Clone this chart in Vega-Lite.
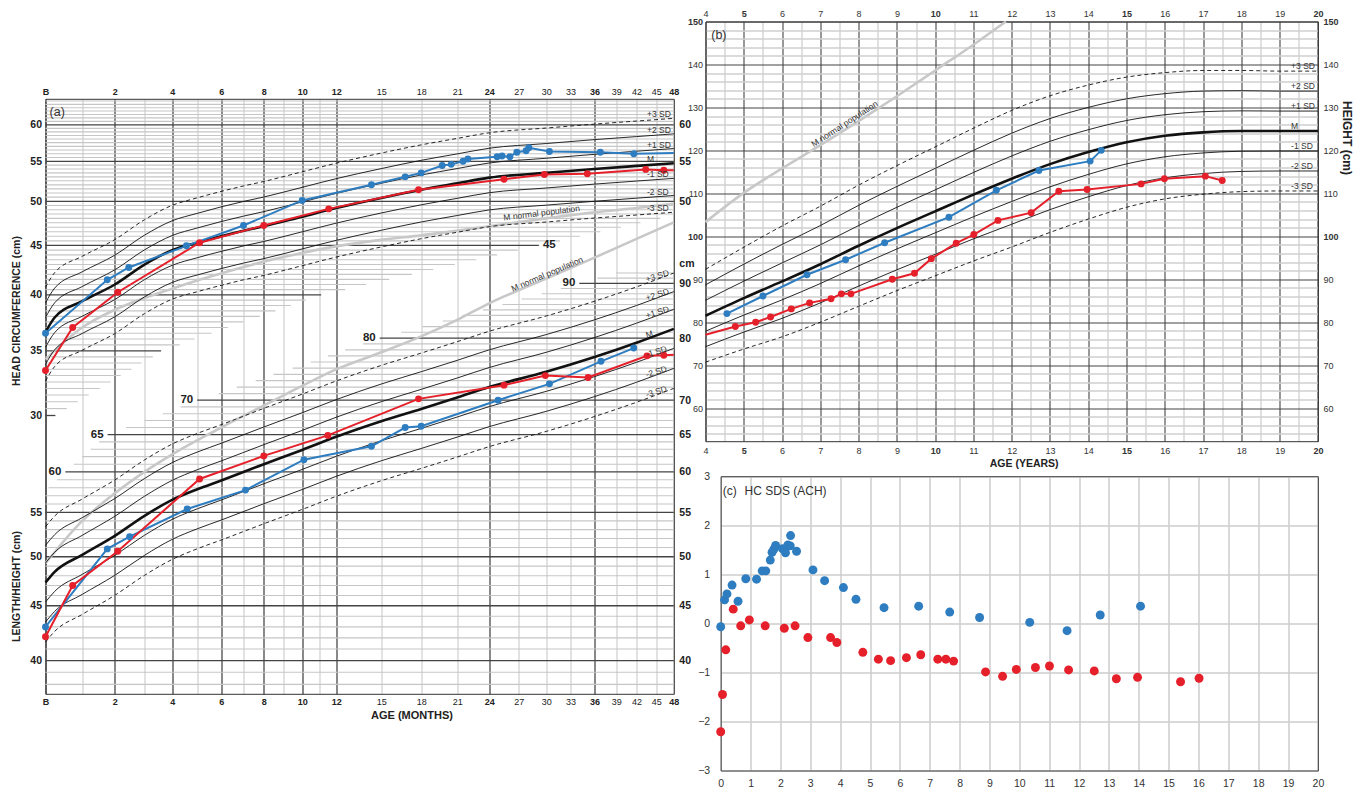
{
"$schema": "https://vega.github.io/schema/vega-lite/v6.json",
"padding": {"left": 10.5, "top": 8.5, "right": 2, "bottom": 2},
"config": {
  "font": "Liberation Sans",
  "view": {"stroke": null},
  "axis": {"ticks": false, "domain": false, "grid": false, "labelColor": "#222", "titleColor": "#222", "labelOverlap": false, "labelFlush": false, "labelBound": false, "domainColor": "#333", "domainWidth": 1}
},
"datasets": {
  "hcgrid": [{"v":63.5,"e":48},{"v":63,"e":48},{"v":62.5,"e":48},{"v":62,"e":48},{"v":61.5,"e":48},{"v":61,"e":48},{"v":60.5,"e":48},{"v":60,"e":48},{"v":59.5,"e":48},{"v":59,"e":48},{"v":58.5,"e":48},{"v":58,"e":48},{"v":57.5,"e":48},{"v":57,"e":48},{"v":56.5,"e":48},{"v":56,"e":48},{"v":55.5,"e":48},{"v":55,"e":48},{"v":54.5,"e":48},{"v":54,"e":48},{"v":53.5,"e":48},{"v":53,"e":48},{"v":52.5,"e":48},{"v":52,"e":48},{"v":51.5,"e":48},{"v":51,"e":48},{"v":50.5,"e":48},{"v":50,"e":48},{"v":49.5,"e":48},{"v":49,"e":48},{"v":48.5,"e":48},{"v":48,"e":45.7},{"v":47.5,"e":42.6},{"v":47,"e":39.7},{"v":46.5,"e":36.8},{"v":46,"e":34.2},{"v":45.5,"e":31.7},{"v":45,"e":29.2},{"v":44.5,"e":26.9},{"v":44,"e":24.8},{"v":43.5,"e":22.8},{"v":43,"e":20.8},{"v":42.5,"e":19},{"v":42,"e":17.3},{"v":41.5,"e":15.6},{"v":41,"e":14},{"v":40.5,"e":12.6},{"v":40,"e":11.1},{"v":39.5,"e":10.2},{"v":39,"e":9.4},{"v":38.5,"e":8.6},{"v":38,"e":7.8},{"v":37.5,"e":7},{"v":37,"e":6.3},{"v":36.5,"e":5.6},{"v":36,"e":4.9},{"v":35.5,"e":4.3},{"v":35,"e":3.6},{"v":34.5,"e":3.3},{"v":34,"e":2.9},{"v":33.5,"e":2.56},{"v":33,"e":2.2},{"v":32.5,"e":1.87},{"v":32,"e":1.54},{"v":31.5,"e":1.2},{"v":31,"e":0.88},{"v":30.5,"e":0.58},{"v":30,"e":0.27}],
  "lengrid": [{"v":38,"s":0},{"v":39,"s":0},{"v":40,"s":0},{"v":41,"s":0},{"v":42,"s":0},{"v":43,"s":0},{"v":44,"s":0},{"v":45,"s":0},{"v":46,"s":0},{"v":47,"s":0},{"v":48,"s":0},{"v":49,"s":0},{"v":50,"s":0},{"v":51,"s":0},{"v":52,"s":0},{"v":53,"s":0},{"v":54,"s":0},{"v":55,"s":0},{"v":56,"s":0},{"v":57,"s":0},{"v":58,"s":0.08},{"v":59,"s":0.31},{"v":60,"s":0.54},{"v":61,"s":0.77},{"v":62,"s":1.0},{"v":63,"s":1.26},{"v":64,"s":1.52},{"v":65,"s":1.78},{"v":66,"s":2.38},{"v":67,"s":3.0},{"v":68,"s":3.66},{"v":69,"s":4.34},{"v":70,"s":5.0},{"v":71,"s":5.9},{"v":72,"s":6.7},{"v":73,"s":7.6},{"v":74,"s":8.5},{"v":75,"s":9.5},{"v":76,"s":10.5},{"v":77,"s":11.5},{"v":78,"s":12.6},{"v":79,"s":13.8},{"v":80,"s":14.9},{"v":81,"s":16.5},{"v":82,"s":18.1},{"v":83,"s":19.8},{"v":84,"s":21.5},{"v":85,"s":23.4},{"v":86,"s":25.35},{"v":87,"s":27.3},{"v":88,"s":29.5},{"v":89,"s":31.8},{"v":90,"s":34.1},{"v":91,"s":36.4},{"v":92,"s":39.0}],
  "hcref": [
    {"m":0,"p3":40.73,"p2":39.25,"p1":37.90,"M":36.6,"m1":35.30,"m2":33.89,"m3":32.56},
    {"m":0.25,"p3":42.18,"p2":40.65,"p1":39.25,"M":37.9,"m1":36.56,"m2":35.09,"m3":33.72},
    {"m":1,"p3":43.85,"p2":42.26,"p1":40.80,"M":39.4,"m1":38.01,"m2":36.48,"m3":35.05},
    {"m":2,"p3":45.63,"p2":43.97,"p1":42.46,"M":41.0,"m1":39.55,"m2":37.96,"m3":36.47},
    {"m":3,"p3":47.85,"p2":46.12,"p1":44.53,"M":43.0,"m1":41.48,"m2":39.81,"m3":38.25},
    {"m":4,"p3":49.52,"p2":47.73,"p1":46.08,"M":44.5,"m1":42.92,"m2":41.20,"m3":39.59},
    {"m":5,"p3":50.41,"p2":48.58,"p1":46.91,"M":45.3,"m1":43.70,"m2":41.94,"m3":40.30},
    {"m":6,"p3":51.19,"p2":49.34,"p1":47.64,"M":46.0,"m1":44.37,"m2":42.59,"m3":40.92},
    {"m":7,"p3":51.86,"p2":49.98,"p1":48.26,"M":46.6,"m1":44.95,"m2":43.15,"m3":41.46},
    {"m":8,"p3":52.42,"p2":50.51,"p1":48.78,"M":47.1,"m1":45.43,"m2":43.61,"m3":41.90},
    {"m":10,"p3":53.64,"p2":51.69,"p1":49.92,"M":48.2,"m1":46.49,"m2":44.63,"m3":42.88},
    {"m":12,"p3":54.75,"p2":52.77,"p1":50.95,"M":49.2,"m1":47.46,"m2":45.55,"m3":43.77},
    {"m":15,"p3":56.09,"p2":54.05,"p1":52.19,"M":50.4,"m1":48.62,"m2":46.66,"m3":44.84},
    {"m":18,"p3":57.20,"p2":55.13,"p1":53.23,"M":51.4,"m1":49.58,"m2":47.59,"m3":45.73},
    {"m":21,"p3":58.09,"p2":55.98,"p1":54.06,"M":52.2,"m1":50.35,"m2":48.33,"m3":46.44},
    {"m":24,"p3":58.87,"p2":56.74,"p1":54.78,"M":52.9,"m1":51.03,"m2":48.98,"m3":47.06},
    {"m":30,"p3":59.54,"p2":57.38,"p1":55.40,"M":53.5,"m1":51.61,"m2":49.54,"m3":47.59},
    {"m":36,"p3":60.10,"p2":57.92,"p1":55.92,"M":54.0,"m1":52.09,"m2":50.00,"m3":48.04},
    {"m":42,"p3":60.54,"p2":58.34,"p1":56.34,"M":54.4,"m1":52.47,"m2":50.37,"m3":48.39},
    {"m":48,"p3":60.93,"p2":58.72,"p1":56.70,"M":54.75,"m1":52.81,"m2":50.69,"m3":48.71}
  ],
  "hcn": [{"m":0,"v":34.3},{"m":1,"v":37.0},{"m":2,"v":38.6},{"m":3,"v":39.7},{"m":4,"v":40.6},{"m":5,"v":41.4},{"m":6,"v":42.1},{"m":8,"v":43.3},{"m":10,"v":44.2},{"m":12,"v":44.9},{"m":15,"v":45.6},{"m":18,"v":46.1},{"m":24,"v":47.1},{"m":30,"v":48.0},{"m":36,"v":48.7},{"m":42,"v":49.2},{"m":48,"v":49.7}],
  "lenref": [
    {"m":0,"p3":53.33,"p2":51.24,"p1":49.33,"M":47.3,"m1":45.36,"m2":43.45,"m3":41.62},
    {"m":0.25,"p3":54.57,"p2":52.43,"p1":50.48,"M":48.4,"m1":46.41,"m2":44.46,"m3":42.59},
    {"m":1,"p3":56.60,"p2":54.38,"p1":52.35,"M":50.2,"m1":48.14,"m2":46.11,"m3":44.17},
    {"m":2,"p3":58.97,"p2":56.66,"p1":54.54,"M":52.3,"m1":50.15,"m2":48.04,"m3":46.02},
    {"m":3,"p3":61.56,"p2":59.15,"p1":56.94,"M":54.6,"m1":52.36,"m2":50.15,"m3":48.04},
    {"m":4,"p3":63.70,"p2":61.21,"p1":58.92,"M":56.5,"m1":54.18,"m2":51.90,"m3":49.71},
    {"m":5,"p3":65.17,"p2":62.61,"p1":60.28,"M":57.8,"m1":55.42,"m2":53.09,"m3":50.86},
    {"m":6,"p3":66.41,"p2":63.81,"p1":61.43,"M":58.9,"m1":56.48,"m2":54.10,"m3":51.83},
    {"m":8,"p3":68.78,"p2":66.08,"p1":63.62,"M":61.0,"m1":58.49,"m2":56.03,"m3":53.67},
    {"m":10,"p3":70.92,"p2":68.14,"p1":65.60,"M":62.9,"m1":60.32,"m2":57.77,"m3":55.35},
    {"m":12,"p3":72.95,"p2":70.09,"p1":67.48,"M":64.7,"m1":62.04,"m2":59.43,"m3":56.93},
    {"m":15,"p3":75.43,"p2":72.47,"p1":69.77,"M":66.9,"m1":64.15,"m2":61.45,"m3":58.87},
    {"m":18,"p3":77.46,"p2":74.42,"p1":71.65,"M":68.7,"m1":65.88,"m2":63.10,"m3":60.45},
    {"m":21,"p3":79.38,"p2":76.26,"p1":73.42,"M":70.4,"m1":67.51,"m2":64.66,"m3":61.95},
    {"m":24,"p3":81.18,"p2":78.00,"p1":75.09,"M":72.0,"m1":69.04,"m2":66.13,"m3":63.35},
    {"m":30,"p3":83.89,"p2":80.60,"p1":77.59,"M":74.4,"m1":71.34,"m2":68.34,"m3":65.46},
    {"m":36,"p3":86.59,"p2":83.20,"p1":80.09,"M":76.8,"m1":73.64,"m2":70.54,"m3":67.58},
    {"m":42,"p3":89.30,"p2":85.80,"p1":82.60,"M":79.2,"m1":75.94,"m2":72.75,"m3":69.69},
    {"m":48,"p3":92.00,"p2":88.40,"p1":85.10,"M":81.6,"m1":78.25,"m2":74.95,"m3":71.80}
  ],
  "lenn": [{"m":0,"v":49.3},{"m":1,"v":54.0},{"m":2,"v":57.3},{"m":3,"v":60.0},{"m":4,"v":62.3},{"m":6,"v":66.0},{"m":9,"v":70.7},{"m":12,"v":74.8},{"m":15,"v":77.6},{"m":18,"v":80.3},{"m":21,"v":83.2},{"m":24,"v":86.2},{"m":30,"v":90.9},{"m":36,"v":95.1},{"m":42,"v":99.0},{"m":48,"v":102.6}],
  "hcpat": [
    {"m":0,"v":36.5,"p":"A"},{"m":1.77,"v":41.46,"p":"A"},{"m":2.47,"v":42.7,"p":"A"},{"m":4.57,"v":44.96,"p":"A"},{"m":7.0,"v":47.2,"p":"A"},{"m":10.0,"v":50.1,"p":"A"},{"m":14.35,"v":52.0,"p":"A"},{"m":16.8,"v":53.0,"p":"A"},{"m":18.0,"v":53.5,"p":"A"},{"m":19.75,"v":54.45,"p":"A"},{"m":20.5,"v":54.6,"p":"A"},{"m":21.55,"v":55.0,"p":"A"},{"m":22.0,"v":55.3,"p":"A"},{"m":24.8,"v":55.6,"p":"A"},{"m":25.3,"v":55.7,"p":"A"},{"m":26.1,"v":55.6,"p":"A"},{"m":26.8,"v":56.2,"p":"A"},{"m":27.8,"v":56.4,"p":"A"},{"m":28.1,"v":56.8,"p":"A"},{"m":30.4,"v":56.3,"p":"A"},{"m":36.8,"v":56.2,"p":"A"},{"m":41.6,"v":56.0,"p":"A"},{"m":48,"v":56.1,"p":"A"},
    {"m":0,"v":33.4,"p":"B"},{"m":0.74,"v":37.0,"p":"B"},{"m":2.1,"v":40.25,"p":"B"},{"m":5.1,"v":45.3,"p":"B"},{"m":8.0,"v":47.2,"p":"B"},{"m":11.55,"v":49.1,"p":"B"},{"m":17.8,"v":51.4,"p":"B"},{"m":25.5,"v":52.7,"p":"B"},{"m":29.8,"v":53.3,"p":"B"},{"m":35.1,"v":53.4,"p":"B"},{"m":43.4,"v":53.95,"p":"B"},{"m":46.3,"v":53.85,"p":"B"},{"m":48,"v":53.85,"p":"B"}
  ],
  "lenpat": [
    {"m":0,"v":43.0,"p":"A"},{"m":1.77,"v":50.85,"p":"A"},{"m":2.5,"v":52.2,"p":"A"},{"m":4.6,"v":55.4,"p":"A"},{"m":7.1,"v":57.7,"p":"A"},{"m":10.1,"v":61.6,"p":"A"},{"m":14.35,"v":63.4,"p":"A"},{"m":16.8,"v":66.0,"p":"A"},{"m":18.0,"v":66.2,"p":"A"},{"m":24.9,"v":70.0,"p":"A"},{"m":30.4,"v":72.5,"p":"A"},{"m":36.9,"v":76.1,"p":"A"},{"m":41.6,"v":78.3,"p":"A"},
    {"m":0,"v":42.1,"p":"B"},{"m":0.74,"v":47.0,"p":"B"},{"m":2.1,"v":50.6,"p":"B"},{"m":5.1,"v":59.1,"p":"B"},{"m":8.0,"v":62.1,"p":"B"},{"m":11.5,"v":64.9,"p":"B"},{"m":17.8,"v":70.2,"p":"B"},{"m":25.5,"v":72.3,"p":"B"},{"m":29.9,"v":73.8,"p":"B"},{"m":35.2,"v":73.5,"p":"B"},{"m":43.6,"v":77.0,"p":"B"},{"m":46.3,"v":77.1,"p":"B"},{"m":48,"v":77.2,"p":"B"}
  ],
  "href": [
    {"a":4,"p3":92.3,"p2":88.7,"p1":85.1,"M":81.5,"m1":77.9,"m2":74.3,"m3":70.7},
    {"a":5,"p3":97.45,"p2":93.5,"p1":89.55,"M":85.6,"m1":81.65,"m2":77.7,"m3":73.75},
    {"a":6,"p3":102.4,"p2":98.1,"p1":93.8,"M":89.5,"m1":85.2,"m2":80.9,"m3":76.6},
    {"a":7,"p3":107.0,"p2":102.5,"p1":98.0,"M":93.5,"m1":89.0,"m2":84.5,"m3":80.0},
    {"a":8,"p3":111.9,"p2":107.2,"p1":102.5,"M":97.8,"m1":93.1,"m2":88.4,"m3":83.7},
    {"a":9,"p3":116.45,"p2":111.6,"p1":106.75,"M":101.9,"m1":97.05,"m2":92.2,"m3":87.35},
    {"a":10,"p3":120.8,"p2":115.8,"p1":110.8,"M":105.8,"m1":100.8,"m2":95.8,"m3":90.8},
    {"a":11,"p3":125.15,"p2":120.0,"p1":114.85,"M":109.7,"m1":104.55,"m2":99.4,"m3":94.25},
    {"a":12,"p3":129.3,"p2":124.0,"p1":118.7,"M":113.4,"m1":108.1,"m2":102.8,"m3":97.5},
    {"a":13,"p3":132.7,"p2":127.4,"p1":122.1,"M":116.8,"m1":111.5,"m2":106.2,"m3":100.9},
    {"a":14,"p3":135.2,"p2":130.0,"p1":124.8,"M":119.6,"m1":114.4,"m2":109.2,"m3":104.0},
    {"a":15,"p3":137.05,"p2":132.0,"p1":126.95,"M":121.9,"m1":116.85,"m2":111.8,"m3":106.75},
    {"a":16,"p3":138.1,"p2":133.2,"p1":128.3,"M":123.4,"m1":118.5,"m2":113.6,"m3":108.7},
    {"a":17,"p3":138.6,"p2":133.8,"p1":129.0,"M":124.2,"m1":119.4,"m2":114.6,"m3":109.8},
    {"a":18,"p3":138.6,"p2":133.9,"p1":129.2,"M":124.5,"m1":119.8,"m2":115.1,"m3":110.4},
    {"a":19,"p3":138.45,"p2":133.8,"p1":129.15,"M":124.5,"m1":119.85,"m2":115.2,"m3":110.55},
    {"a":20,"p3":138.45,"p2":133.8,"p1":129.15,"M":124.5,"m1":119.85,"m2":115.2,"m3":110.55}
  ],
  "hn": [{"a":4,"v":103.3},{"a":5,"v":110.1},{"a":6,"v":115.8},{"a":7,"v":121.2},{"a":8,"v":126.8},{"a":9,"v":132.6},{"a":10,"v":138.6},{"a":11,"v":144.6},{"a":11.85,"v":150.0}],
  "hpat": [
    {"a":4.56,"v":82.0,"p":"A"},{"a":5.5,"v":86.1,"p":"A"},{"a":6.65,"v":91.05,"p":"A"},{"a":7.66,"v":94.55,"p":"A"},{"a":8.68,"v":98.5,"p":"A"},{"a":10.36,"v":104.45,"p":"A"},{"a":11.6,"v":110.7,"p":"A"},{"a":12.71,"v":115.3,"p":"A"},{"a":14.05,"v":117.5,"p":"A"},{"a":14.34,"v":120.0,"p":"A"},
    {"a":4,"v":77.1,"p":"B"},{"a":4.78,"v":79.0,"p":"B"},{"a":5.31,"v":80.0,"p":"B"},{"a":5.7,"v":81.2,"p":"B"},{"a":6.24,"v":83.1,"p":"B"},{"a":6.72,"v":84.5,"p":"B"},{"a":7.28,"v":85.45,"p":"B"},{"a":7.55,"v":86.6,"p":"B"},{"a":7.8,"v":86.6,"p":"B"},{"a":8.88,"v":90.0,"p":"B"},{"a":9.46,"v":91.4,"p":"B"},{"a":9.9,"v":94.8,"p":"B"},{"a":10.55,"v":98.4,"p":"B"},{"a":11.01,"v":100.4,"p":"B"},{"a":11.64,"v":103.7,"p":"B"},{"a":12.51,"v":105.5,"p":"B"},{"a":13.23,"v":110.5,"p":"B"},{"a":13.97,"v":110.9,"p":"B"},{"a":15.38,"v":112.2,"p":"B"},{"a":15.99,"v":113.4,"p":"B"},{"a":17.06,"v":114.0,"p":"B"},{"a":17.5,"v":113.0,"p":"B"}
  ],
  "sds": [
    {"a":0,"v":-0.07,"p":"A"},{"a":0.13,"v":0.48,"p":"A"},{"a":0.21,"v":0.60,"p":"A"},{"a":0.38,"v":0.78,"p":"A"},{"a":0.58,"v":0.45,"p":"A"},{"a":0.84,"v":0.91,"p":"A"},{"a":1.20,"v":0.90,"p":"A"},{"a":1.39,"v":1.07,"p":"A"},{"a":1.51,"v":1.07,"p":"A"},{"a":1.66,"v":1.29,"p":"A"},{"a":1.72,"v":1.45,"p":"A"},{"a":1.78,"v":1.51,"p":"A"},{"a":1.84,"v":1.59,"p":"A"},{"a":2.07,"v":1.52,"p":"A"},{"a":2.14,"v":1.51,"p":"A"},{"a":2.17,"v":1.44,"p":"A"},{"a":2.25,"v":1.60,"p":"A"},{"a":2.33,"v":1.58,"p":"A"},{"a":2.34,"v":1.79,"p":"A"},{"a":2.54,"v":1.47,"p":"A"},{"a":3.09,"v":1.09,"p":"A"},{"a":3.48,"v":0.87,"p":"A"},{"a":4.11,"v":0.73,"p":"A"},{"a":4.53,"v":0.49,"p":"A"},{"a":5.47,"v":0.32,"p":"A"},{"a":6.63,"v":0.35,"p":"A"},{"a":7.67,"v":0.23,"p":"A"},{"a":8.67,"v":0.12,"p":"A"},{"a":10.35,"v":0.02,"p":"A"},{"a":11.60,"v":-0.15,"p":"A"},{"a":12.71,"v":0.17,"p":"A"},{"a":14.06,"v":0.35,"p":"A"},
    {"a":0,"v":-2.21,"p":"B"},{"a":0.06,"v":-1.45,"p":"B"},{"a":0.17,"v":-0.54,"p":"B"},{"a":0.42,"v":0.29,"p":"B"},{"a":0.67,"v":-0.05,"p":"B"},{"a":0.96,"v":0.07,"p":"B"},{"a":1.49,"v":-0.05,"p":"B"},{"a":2.13,"v":-0.10,"p":"B"},{"a":2.49,"v":-0.05,"p":"B"},{"a":2.92,"v":-0.29,"p":"B"},{"a":3.68,"v":-0.29,"p":"B"},{"a":3.89,"v":-0.39,"p":"B"},{"a":4.76,"v":-0.59,"p":"B"},{"a":5.28,"v":-0.73,"p":"B"},{"a":5.69,"v":-0.76,"p":"B"},{"a":6.22,"v":-0.70,"p":"B"},{"a":6.70,"v":-0.64,"p":"B"},{"a":7.27,"v":-0.73,"p":"B"},{"a":7.54,"v":-0.73,"p":"B"},{"a":7.80,"v":-0.77,"p":"B"},{"a":8.87,"v":-0.99,"p":"B"},{"a":9.44,"v":-1.08,"p":"B"},{"a":9.90,"v":-0.94,"p":"B"},{"a":10.54,"v":-0.90,"p":"B"},{"a":11.01,"v":-0.87,"p":"B"},{"a":11.65,"v":-0.95,"p":"B"},{"a":12.51,"v":-0.97,"p":"B"},{"a":13.25,"v":-1.13,"p":"B"},{"a":13.96,"v":-1.10,"p":"B"},{"a":15.40,"v":-1.19,"p":"B"},{"a":16.02,"v":-1.12,"p":"B"}
  ]
},
"bounds": "flush",
"spacing": 31,
"hconcat": [
 {
  "width": 628.3, "height": 672.3,
  "resolve": {"scale": {"x": "independent", "y": "independent"}},
  "layer": [
   {
    "resolve": {"axis": {"x": "independent", "y": "independent"}},
    "layer": [
     {"data": {"name": "hcgrid"}, "transform": [{"filter": "datum.v % 5 != 0"}],
      "mark": {"type": "rule", "color": "#c6c6c6", "strokeWidth": 1.1},
      "encoding": {
       "x": {"field": "e", "type": "quantitative",
             "scale": {"domain": [0,1,2,3,4,5,6,7,8,9,10,11,12,15,18,21,24,27,30,33,36,39,42,45,48], "range": [0,36.7,69.3,99,126.7,151.7,175.7,198,218.3,237.7,256.7,274,290.7,335.7,375.7,411.7,443.7,473.3,500.7,525,549,570.7,591,610.7,628.3], "nice": false, "zero": false},
             "axis": {"orient": "bottom", "values": [0,2,4,6,8,10,12,15,18,21,24,27,30,33,36,39,42,45,48], "domain": true,
                      "labelExpr": "datum.value == 0 ? 'B' : format(datum.value, 'd')",
                      "labelFontWeight": {"condition": {"test": "datum.value <= 12 || datum.value % 12 == 0", "value": "bold"}, "value": "normal"},
                      "labelFontSize": 9, "labelPadding": 4,
                      "title": "AGE (MONTHS)", "titleX": 366, "titleY": 21.4, "titleAlign": "center", "titleBaseline": "middle", "titleAngle": 0, "titleFontSize": 11, "titleFontWeight": "bold"}},
       "x2": {"datum": 0},
       "y": {"field": "v", "type": "quantitative",
             "scale": {"type": "log", "domain": [15.45, 63.84], "range": [672.3, 77.3], "nice": false, "zero": false},
             "axis": {"orient": "left", "values": [30,35,40,45,50,55,60], "domain": true, "labelExpr": "format(datum.value, 'd')", "labelFontWeight": "bold", "labelFontSize": 10.5, "labelPadding": 4,
                      "title": "HEAD CIRCUMFERENCE (cm)", "titleX": -29.2, "titleY": 289, "titleAngle": 270, "titleAlign": "center", "titleBaseline": "middle", "titleFontSize": 10.5, "titleFontWeight": "bold"}}
      }},
     {"data": {"name": "hcgrid"}, "transform": [{"filter": "datum.v % 5 == 0"}],
      "mark": {"type": "rule", "color": "#444", "strokeWidth": 1.3},
      "encoding": {
       "x": {"field": "e", "type": "quantitative", "axis": null},
       "x2": {"datum": 0},
       "y": {"field": "v", "type": "quantitative", "scale": {"type": "log"}, "axis": null}
      }}
    ]
   },
   {
    "resolve": {"axis": {"x": "independent", "y": "independent"}},
    "layer": [
     {"data": {"name": "lengrid"}, "transform": [{"filter": "!(datum.v % 5 == 0 && (datum.v <= 70 || datum.v % 10 == 0))"}],
      "mark": {"type": "rule", "color": "#c6c6c6", "strokeWidth": 1.1},
      "encoding": {
       "x": {"field": "s", "type": "quantitative",
             "scale": {"domain": [0,1,2,3,4,5,6,7,8,9,10,11,12,15,18,21,24,27,30,33,36,39,42,45,48], "range": [0,36.7,69.3,99,126.7,151.7,175.7,198,218.3,237.7,256.7,274,290.7,335.7,375.7,411.7,443.7,473.3,500.7,525,549,570.7,591,610.7,628.3], "nice": false, "zero": false},
             "axis": {"orient": "top", "offset": -77.3, "domain": true, "values": [0,1,2,3,4,5,6,7,8,9,10,11,12,15,18,21,24,27,30,33,36,39,42,45,48], "grid": true,
                      "gridColor": {"condition": {"test": "(datum.value <= 12 && datum.value % 2 == 0) || datum.value == 24 || datum.value == 36", "value": "#3a3a3a"}, "value": "#cfcfcf"},
                      "gridWidth": {"condition": {"test": "datum.value == 24 || datum.value == 36", "value": 2}, "value": 1.2},
                      "gridOpacity": {"condition": {"test": "datum.value == 24 || datum.value == 36", "value": 0.6}, "value": 1},
                      "labelExpr": "datum.value == 0 ? 'B' : ((datum.value < 12 && datum.value % 2 == 1) ? '' : format(datum.value, 'd'))",
                      "labelFontWeight": {"condition": {"test": "datum.value <= 12 || datum.value % 12 == 0", "value": "bold"}, "value": "normal"},
                      "labelFontSize": 9, "labelPadding": 2, "title": null}},
       "x2": {"datum": 48},
       "y": {"field": "v", "type": "quantitative",
             "scale": {"type": "log", "domain": [37.24, 133.8], "range": [672.3, 77.3], "nice": false, "zero": false},
             "axis": {"orient": "left", "values": [40,45,50,55], "labelExpr": "format(datum.value, 'd')", "labelFontWeight": "bold", "labelFontSize": 10.5, "labelPadding": 4,
                      "title": "LENGTH/HEIGHT (cm)", "titleX": -29.2, "titleY": 564.5, "titleAngle": 270, "titleAlign": "center", "titleBaseline": "middle", "titleFontSize": 10.5, "titleFontWeight": "bold"}}
      }},
     {"data": {"name": "lengrid"}, "transform": [{"filter": "datum.v % 5 == 0 && (datum.v <= 70 || datum.v % 10 == 0)"}],
      "mark": {"type": "rule", "color": "#444", "strokeWidth": 1.3},
      "encoding": {
       "x": {"field": "s", "type": "quantitative", "axis": null},
       "x2": {"datum": 48},
       "y": {"field": "v", "type": "quantitative", "scale": {"type": "log"}, "axis": null}
      }}
    ]
   },
   {
    "resolve": {"axis": {"x": "independent", "y": "independent"}},
    "layer": [
     {"data": {"name": "hcn"},
      "mark": {"type": "line", "color": "#c8c8c8", "strokeWidth": 2.6, "interpolate": "monotone"},
      "encoding": {
       "x": {"field": "m", "type": "quantitative", "axis": null,
             "scale": {"domain": [0,1,2,3,4,5,6,7,8,9,10,11,12,15,18,21,24,27,30,33,36,39,42,45,48], "range": [0,36.7,69.3,99,126.7,151.7,175.7,198,218.3,237.7,256.7,274,290.7,335.7,375.7,411.7,443.7,473.3,500.7,525,549,570.7,591,610.7,628.3], "nice": false, "zero": false}},
       "y": {"field": "v", "type": "quantitative", "scale": {"type": "log", "domain": [15.45, 63.84], "range": [672.3, 77.3], "nice": false, "zero": false},
             "axis": {"orient": "right", "domain": true, "values": [50,55,60], "labelExpr": "format(datum.value, 'd')", "labelFontWeight": "bold", "labelFontSize": 10.5, "labelPadding": 5, "title": null}}
      }},
     {"data": {"name": "hcref"}, "transform": [{"fold": ["p2","p1","m1","m2"], "as": ["c","v"]}],
      "mark": {"type": "line", "color": "#111", "strokeWidth": 0.9, "interpolate": "monotone"},
      "encoding": {"x": {"field": "m", "type": "quantitative", "axis": null}, "y": {"field": "v", "type": "quantitative", "scale": {"type": "log"}, "axis": null}, "detail": {"field": "c", "type": "nominal"}}},
     {"data": {"name": "hcref"}, "transform": [{"fold": ["p3","m3"], "as": ["c","v"]}],
      "mark": {"type": "line", "color": "#111", "strokeWidth": 0.9, "strokeDash": [4,3], "interpolate": "monotone"},
      "encoding": {"x": {"field": "m", "type": "quantitative", "axis": null}, "y": {"field": "v", "type": "quantitative", "scale": {"type": "log"}, "axis": null}, "detail": {"field": "c", "type": "nominal"}}},
     {"data": {"name": "hcref"},
      "mark": {"type": "line", "color": "#111", "strokeWidth": 2.6, "interpolate": "monotone"},
      "encoding": {"x": {"field": "m", "type": "quantitative", "axis": null}, "y": {"field": "M", "type": "quantitative", "scale": {"type": "log"}, "axis": null}}},
     {"data": {"name": "hcpat"},
      "mark": {"type": "line", "strokeWidth": 2},
      "encoding": {"x": {"field": "m", "type": "quantitative", "axis": null}, "y": {"field": "v", "type": "quantitative", "scale": {"type": "log"}, "axis": null},
                   "color": {"field": "p", "type": "nominal", "scale": {"domain": ["A","B"], "range": ["#2e7dc0","#e5202a"]}, "legend": null}}},
     {"data": {"name": "hcpat"}, "transform": [{"filter": "datum.m < 48"}],
      "mark": {"type": "circle", "size": 48, "opacity": 1},
      "encoding": {"x": {"field": "m", "type": "quantitative", "axis": null}, "y": {"field": "v", "type": "quantitative", "scale": {"type": "log"}, "axis": null},
                   "color": {"field": "p", "type": "nominal", "scale": {"domain": ["A","B"], "range": ["#2e7dc0","#e5202a"]}, "legend": null}}},
     {"data": {"values": [{"m":43.6,"v":60.64,"t":"+3 SD"},{"m":43.6,"v":58.44,"t":"+2 SD"},{"m":43.6,"v":56.43,"t":"+1 SD"},{"m":43.6,"v":54.49,"t":"M"},{"m":43.6,"v":52.56,"t":"-1 SD"},{"m":43.6,"v":50.45,"t":"-2 SD"},{"m":43.6,"v":48.47,"t":"-3 SD"}]},
      "mark": {"type": "text", "align": "left", "baseline": "middle", "dy": -6, "fontSize": 8.5, "color": "#333"},
      "encoding": {"x": {"field": "m", "type": "quantitative", "axis": null}, "y": {"field": "v", "type": "quantitative", "scale": {"type": "log"}, "axis": null}, "text": {"field": "t", "type": "nominal"}}},
     {"data": {"values": [{"m":29.5,"v":48.65,"t":"M normal population"}]},
      "mark": {"type": "text", "align": "center", "baseline": "middle", "angle": 353, "fontSize": 8.5, "color": "#333"},
      "encoding": {"x": {"field": "m", "type": "quantitative", "axis": null}, "y": {"field": "v", "type": "quantitative", "scale": {"type": "log"}, "axis": null}, "text": {"field": "t", "type": "nominal"}}},
     {"data": {"values": [{"m":0.11,"v":61.86,"t":"(a)"}]},
      "mark": {"type": "text", "align": "left", "baseline": "middle", "fontSize": 12.5, "color": "#333"},
      "encoding": {"x": {"field": "m", "type": "quantitative", "axis": null}, "y": {"field": "v", "type": "quantitative", "scale": {"type": "log"}, "axis": null}, "text": {"field": "t", "type": "nominal"}}},
     {"data": {"values": [{"m":29.2,"v":45,"t":"45"}]},
      "mark": {"type": "text", "align": "left", "baseline": "middle", "dx": 4, "fontSize": 11.5, "fontWeight": "bold", "color": "#222"},
      "encoding": {"x": {"field": "m", "type": "quantitative", "axis": null}, "y": {"field": "v", "type": "quantitative", "scale": {"type": "log"}, "axis": null}, "text": {"field": "t", "type": "nominal"}}}
    ]
   },
   {
    "resolve": {"axis": {"x": "independent", "y": "independent"}},
    "layer": [
     {"data": {"name": "lenn"},
      "mark": {"type": "line", "color": "#c8c8c8", "strokeWidth": 2.6, "interpolate": "monotone"},
      "encoding": {
       "x": {"field": "m", "type": "quantitative", "axis": null,
             "scale": {"domain": [0,1,2,3,4,5,6,7,8,9,10,11,12,15,18,21,24,27,30,33,36,39,42,45,48], "range": [0,36.7,69.3,99,126.7,151.7,175.7,198,218.3,237.7,256.7,274,290.7,335.7,375.7,411.7,443.7,473.3,500.7,525,549,570.7,591,610.7,628.3], "nice": false, "zero": false}},
       "y": {"field": "v", "type": "quantitative", "scale": {"type": "log", "domain": [37.24, 133.8], "range": [672.3, 77.3], "nice": false, "zero": false},
             "axis": {"orient": "right", "values": [40,45,50,55,60,65,70,80,90,93.9], "labelExpr": "datum.value > 93 ? 'cm' : format(datum.value, 'd')", "labelFontWeight": "bold", "labelFontSize": 10.5, "labelPadding": 5, "title": null}}
      }},
     {"data": {"name": "lenref"}, "transform": [{"fold": ["p2","p1","m1","m2"], "as": ["c","v"]}],
      "mark": {"type": "line", "color": "#111", "strokeWidth": 0.9, "interpolate": "monotone"},
      "encoding": {"x": {"field": "m", "type": "quantitative", "axis": null}, "y": {"field": "v", "type": "quantitative", "scale": {"type": "log"}, "axis": null}, "detail": {"field": "c", "type": "nominal"}}},
     {"data": {"name": "lenref"}, "transform": [{"fold": ["p3","m3"], "as": ["c","v"]}],
      "mark": {"type": "line", "color": "#111", "strokeWidth": 0.9, "strokeDash": [4,3], "interpolate": "monotone"},
      "encoding": {"x": {"field": "m", "type": "quantitative", "axis": null}, "y": {"field": "v", "type": "quantitative", "scale": {"type": "log"}, "axis": null}, "detail": {"field": "c", "type": "nominal"}}},
     {"data": {"name": "lenref"},
      "mark": {"type": "line", "color": "#111", "strokeWidth": 2.6, "interpolate": "monotone"},
      "encoding": {"x": {"field": "m", "type": "quantitative", "axis": null}, "y": {"field": "M", "type": "quantitative", "scale": {"type": "log"}, "axis": null}}},
     {"data": {"name": "lenpat"},
      "mark": {"type": "line", "strokeWidth": 2},
      "encoding": {"x": {"field": "m", "type": "quantitative", "axis": null}, "y": {"field": "v", "type": "quantitative", "scale": {"type": "log"}, "axis": null},
                   "color": {"field": "p", "type": "nominal", "scale": {"domain": ["A","B"], "range": ["#2e7dc0","#e5202a"]}, "legend": null}}},
     {"data": {"name": "lenpat"}, "transform": [{"filter": "datum.m < 48"}],
      "mark": {"type": "circle", "size": 48, "opacity": 1},
      "encoding": {"x": {"field": "m", "type": "quantitative", "axis": null}, "y": {"field": "v", "type": "quantitative", "scale": {"type": "log"}, "axis": null},
                   "color": {"field": "p", "type": "nominal", "scale": {"domain": ["A","B"], "range": ["#2e7dc0","#e5202a"]}, "legend": null}}},
     {"data": {"values": [{"m":43.6,"v":90.02,"t":"+3 SD"},{"m":43.6,"v":86.49,"t":"+2 SD"},{"m":43.6,"v":83.27,"t":"+1 SD"},{"m":43.6,"v":79.84,"t":"M"},{"m":43.6,"v":76.56,"t":"-1 SD"},{"m":43.6,"v":73.34,"t":"-2 SD"},{"m":43.6,"v":70.25,"t":"-3 SD"}]},
      "mark": {"type": "text", "align": "left", "baseline": "middle", "dy": -4, "angle": 343, "fontSize": 8.5, "color": "#333"},
      "encoding": {"x": {"field": "m", "type": "quantitative", "axis": null}, "y": {"field": "v", "type": "quantitative", "scale": {"type": "log"}, "axis": null}, "text": {"field": "t", "type": "nominal"}}},
     {"data": {"values": [{"m":30.1,"v":91.84,"t":"M normal population"}]},
      "mark": {"type": "text", "align": "center", "baseline": "middle", "angle": 337, "fontSize": 8.5, "color": "#333"},
      "encoding": {"x": {"field": "m", "type": "quantitative", "axis": null}, "y": {"field": "v", "type": "quantitative", "scale": {"type": "log"}, "axis": null}, "text": {"field": "t", "type": "nominal"}}},
     {"data": {"values": [{"m":34.1,"v":90,"t":"90"},{"m":14.9,"v":80,"t":"80"},{"m":5.0,"v":70,"t":"70"},{"m":1.78,"v":65,"t":"65"},{"m":0.54,"v":60,"t":"60"}]},
      "mark": {"type": "text", "align": "right", "baseline": "middle", "dx": -4, "fontSize": 11.5, "fontWeight": "bold", "color": "#222"},
      "encoding": {"x": {"field": "m", "type": "quantitative", "axis": null}, "y": {"field": "v", "type": "quantitative", "scale": {"type": "log"}, "axis": null}, "text": {"field": "t", "type": "nominal"}}}
    ]
   }
  ]
 },
 {
  "width": 612.4, "height": 749,
  "resolve": {"scale": {"x": "independent", "y": "independent"}},
  "layer": [
   {
    "resolve": {"axis": {"x": "independent", "y": "independent"}},
    "layer": [
     {"data": {"name": "href"}, "transform": [{"fold": ["p2","p1","m1","m2"], "as": ["c","v"]}],
      "mark": {"type": "line", "color": "#111", "strokeWidth": 0.9, "interpolate": "monotone"},
      "encoding": {
       "x": {"field": "a", "type": "quantitative", "scale": {"domain": [4,20], "range": [0, 612.4], "nice": false, "zero": false},
             "axis": {"orient": "top", "domain": true, "values": [4,4.5,5,5.5,6,6.5,7,7.5,8,8.5,9,9.5,10,10.5,11,11.5,12,12.5,13,13.5,14,14.5,15,15.5,16,16.5,17,17.5,18,18.5,19,19.5,20], "grid": true,
                      "gridColor": {"condition": {"test": "datum.value % 1 == 0", "value": "#444"}, "value": "#cfcfcf"},
                      "gridWidth": {"condition": {"test": "datum.value % 1 == 0", "value": 1.1}, "value": 1.3},
                      "labelExpr": "datum.value % 1 == 0 ? format(datum.value, 'd') : ''",
                      "labelFontWeight": {"condition": {"test": "datum.value % 5 == 0", "value": "bold"}, "value": "normal"},
                      "labelFontSize": 9, "labelColor": "#333", "labelPadding": 3.5, "title": null}},
       "y": {"field": "v", "type": "quantitative", "scale": {"domain": [52.3,150], "range": [419.7, 0], "nice": false, "zero": false},
             "axis": {"orient": "left", "domain": true, "values": [54,56,58,60,62,64,66,68,70,72,74,76,78,80,82,84,86,88,90,92,94,96,98,100,102,104,106,108,110,112,114,116,118,120,122,124,126,128,130,132,134,136,138,140,142,144,146,148,150], "grid": true,
                      "gridColor": {"condition": {"test": "datum.value % 10 == 0", "value": "#444"}, "value": "#cfcfcf"},
                      "gridWidth": {"condition": {"test": "datum.value % 10 == 0", "value": 1.1}, "value": 1.3},
                      "labelExpr": "datum.value % 10 == 0 ? format(datum.value, 'd') : ''",
                      "labelFontWeight": {"condition": {"test": "datum.value % 50 == 0", "value": "bold"}, "value": "normal"},
                      "labelFontSize": 9, "labelColor": "#333", "labelPadding": 3, "title": null}},
       "detail": {"field": "c", "type": "nominal"}
      }},
     {"data": {"name": "hn"},
      "mark": {"type": "line", "color": "#c8c8c8", "strokeWidth": 2.6, "interpolate": "monotone"},
      "encoding": {
       "x": {"field": "a", "type": "quantitative",
             "axis": {"orient": "bottom", "offset": -329.3, "domain": true, "values": [4,5,6,7,8,9,10,11,12,13,14,15,16,17,18,19,20], "labelExpr": "format(datum.value, 'd')",
                      "labelFontWeight": {"condition": {"test": "datum.value % 5 == 0", "value": "bold"}, "value": "normal"},
                      "labelFontSize": 9, "labelColor": "#333", "labelPadding": 5,
                      "title": "AGE (YEARS)", "titleX": 318.2, "titleY": 22.6, "titleAlign": "center", "titleBaseline": "middle", "titleAngle": 0, "titleFontSize": 10.5, "titleFontWeight": "bold"}},
       "y": {"field": "v", "type": "quantitative",
             "axis": {"orient": "right", "domain": true, "values": [60,70,80,90,100,110,120,130,140,150], "labelExpr": "format(datum.value, 'd')",
                      "labelFontWeight": {"condition": {"test": "datum.value % 50 == 0", "value": "bold"}, "value": "normal"},
                      "labelFontSize": 9, "labelColor": "#333", "labelPadding": 5,
                      "title": "HEIGHT (cm)", "titleX": 28.3, "titleY": 116, "titleAngle": 90, "titleAlign": "center", "titleBaseline": "middle", "titleFontSize": 12, "titleFontWeight": "bold"}}
      }},
     {"data": {"name": "href"}, "transform": [{"fold": ["p3","m3"], "as": ["c","v"]}],
      "mark": {"type": "line", "color": "#111", "strokeWidth": 0.9, "strokeDash": [4,3], "interpolate": "monotone"},
      "encoding": {"x": {"field": "a", "type": "quantitative", "axis": null}, "y": {"field": "v", "type": "quantitative", "axis": null}, "detail": {"field": "c", "type": "nominal"}}},
     {"data": {"name": "href"},
      "mark": {"type": "line", "color": "#111", "strokeWidth": 2.6, "interpolate": "monotone"},
      "encoding": {"x": {"field": "a", "type": "quantitative", "axis": null}, "y": {"field": "M", "type": "quantitative", "axis": null}}},
     {"data": {"name": "hpat"},
      "mark": {"type": "line", "strokeWidth": 2},
      "encoding": {"x": {"field": "a", "type": "quantitative", "axis": null}, "y": {"field": "v", "type": "quantitative", "axis": null},
                   "color": {"field": "p", "type": "nominal", "scale": {"domain": ["A","B"], "range": ["#2e7dc0","#e5202a"]}, "legend": null}}},
     {"data": {"name": "hpat"}, "transform": [{"filter": "datum.a > 4"}],
      "mark": {"type": "circle", "size": 48, "opacity": 1},
      "encoding": {"x": {"field": "a", "type": "quantitative", "axis": null}, "y": {"field": "v", "type": "quantitative", "axis": null},
                   "color": {"field": "p", "type": "nominal", "scale": {"domain": ["A","B"], "range": ["#2e7dc0","#e5202a"]}, "legend": null}}},
     {"data": {"values": [{"a":19.3,"v":138.45,"t":"+3 SD"},{"a":19.3,"v":133.8,"t":"+2 SD"},{"a":19.3,"v":129.15,"t":"+1 SD"},{"a":19.3,"v":124.5,"t":"M"},{"a":19.3,"v":119.85,"t":"-1 SD"},{"a":19.3,"v":115.2,"t":"-2 SD"},{"a":19.3,"v":110.55,"t":"-3 SD"}]},
      "mark": {"type": "text", "align": "left", "baseline": "middle", "dy": -5, "fontSize": 8.5, "color": "#333"},
      "encoding": {"x": {"field": "a", "type": "quantitative", "axis": null}, "y": {"field": "v", "type": "quantitative", "axis": null}, "text": {"field": "t", "type": "nominal"}}},
     {"data": {"values": [{"a":7.63,"v":126.2,"t":"M normal population"}]},
      "mark": {"type": "text", "align": "center", "baseline": "middle", "angle": 327, "fontSize": 8.5, "color": "#333"},
      "encoding": {"x": {"field": "a", "type": "quantitative", "axis": null}, "y": {"field": "v", "type": "quantitative", "axis": null}, "text": {"field": "t", "type": "nominal"}}},
     {"data": {"values": [{"a":4.15,"v":146.97,"t":"(b)"}]},
      "mark": {"type": "text", "align": "left", "baseline": "middle", "fontSize": 12.5, "color": "#333"},
      "encoding": {"x": {"field": "a", "type": "quantitative", "axis": null}, "y": {"field": "v", "type": "quantitative", "axis": null}, "text": {"field": "t", "type": "nominal"}}}
    ]
   },
   {
    "resolve": {"axis": {"x": "independent", "y": "independent"}},
    "layer": [
     {"data": {"name": "sds"},
      "mark": {"type": "circle", "size": 80, "opacity": 1},
      "encoding": {
       "x": {"field": "a", "type": "quantitative", "scale": {"domain": [0,20], "range": [15.2, 612.4], "nice": false, "zero": false},
             "axis": {"orient": "bottom", "domain": true, "domainColor": "#444", "values": [0,1,2,3,4,5,6,7,8,9,10,11,12,13,14,15,16,17,18,19,20], "labelFontSize": 10.5, "labelColor": "#333", "labelPadding": 8, "title": null}},
       "y": {"field": "v", "type": "quantitative", "scale": {"domain": [-3,3], "range": [749, 454.7], "nice": false, "zero": false},
             "axis": {"orient": "left", "offset": -15.2, "domain": true, "domainColor": "#444", "values": [-3,-2,-1,0,1,2,3], "grid": true, "gridColor": "#cccccc", "gridWidth": 1.5, "labelFontSize": 10.5, "labelColor": "#333", "labelPadding": 11, "title": null}},
       "color": {"field": "p", "type": "nominal", "scale": {"domain": ["A","B"], "range": ["#2e7dc0","#e5202a"]}, "legend": null}
      }},
     {"data": {"values": [{"a":0.07,"v":2.7,"t":"(c)"},{"a":0.8,"v":2.7,"t":"HC SDS (ACH)"}]},
      "mark": {"type": "text", "align": "left", "baseline": "middle", "fontSize": 12, "color": "#333"},
      "encoding": {
       "x": {"field": "a", "type": "quantitative",
             "axis": {"orient": "top", "offset": -454.7, "domain": true, "domainColor": "#444", "labels": false, "values": [0,1,2,3,4,5,6,7,8,9,10,11,12,13,14,15,16,17,18,19,20], "grid": true, "gridColor": "#cccccc", "gridWidth": 1.5, "title": null}},
       "y": {"field": "v", "type": "quantitative",
             "axis": {"orient": "right", "domain": true, "domainColor": "#444", "labels": false, "values": [-3,3], "title": null}},
       "text": {"field": "t", "type": "nominal"}
      }}
    ]
   }
  ]
 }
]
}
